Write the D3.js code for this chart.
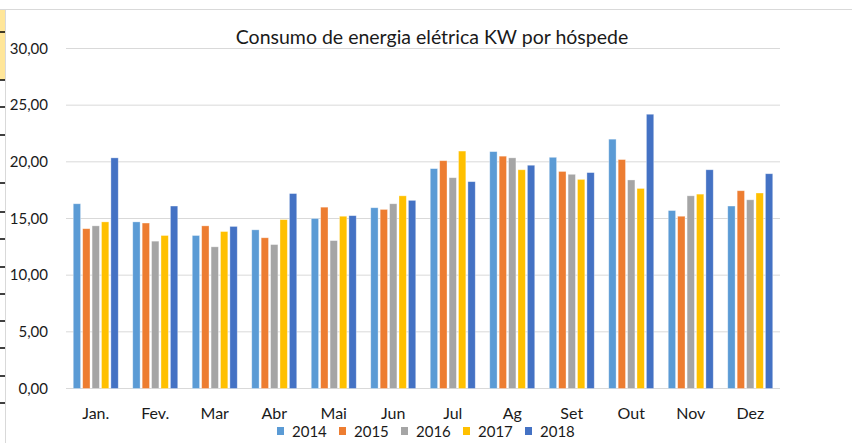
<!DOCTYPE html>
<html>
<head>
<meta charset="utf-8">
<script src="https://cdn.jsdelivr.net/npm/d3@7"></script>
<style>
  body { margin: 0; background: #fff; }
  svg { display: block; }
  text { font-family: Lato, "Noto Sans", sans-serif; fill: #1a1a1a; }
</style>
</head>
<body>
<div id="chart"></div>
<script>
// values
const months = ["Jan.", "Fev.", "Mar", "Abr", "Mai", "Jun", "Jul", "Ag", "Set", "Out", "Nov", "Dez"]
const years = ["2014", "2015", "2016", "2017", "2018"]

const v2014 = [16.3, 14.7, 13.5, 14.0, 15.0, 15.95, 19.4, 20.9, 20.4, 22.0, 15.7, 16.1]
const v2015 = [14.1, 14.6, 14.35, 13.3, 16.0, 15.8, 20.1, 20.5, 19.15, 20.2, 15.2, 17.45]
const v2016 = [14.35, 13.0, 12.5, 12.7, 13.05, 16.3, 18.6, 20.35, 18.9, 18.4, 17.0, 16.65]
const v2017 = [14.7, 13.5, 13.85, 14.9, 15.2, 17.0, 20.95, 19.3, 18.45, 17.65, 17.15, 17.25]
const v2018 = [20.35, 16.1, 14.3, 17.2, 15.25, 16.6, 18.25, 19.7, 19.05, 24.2, 19.3, 18.95]

const yTicks = [0, 5, 10, 15, 20, 25, 30]

// spreadsheet row boundaries showing at the left edge
const sheetRows = [32, 80, 107, 135, 183, 212, 239, 267, 294, 321, 348, 376, 403]

const W = 852, H = 443
const margin = {top: 48.5, right: 72, bottom: 54.5, left: 66},
    width = W - margin.left - margin.right,
    height = H - margin.top - margin.bottom

const series = [v2014, v2015, v2016, v2017, v2018]
const data = months.map((m, i) => {
  const row = {month: m}
  years.forEach((y, j) => row[y] = series[j][i])
  return row
})

const svg = d3.select("#chart")
  .append("svg")
    .attr("width", W)
    .attr("height", H)

// bits of the spreadsheet around the chart
svg.append("rect")
  .attr("x", 0).attr("y", 10)
  .attr("width", 5).attr("height", 70)
  .attr("fill", "#ffe699")
svg.append("line")
  .attr("x1", 0).attr("x2", W)
  .attr("y1", 9.5).attr("y2", 9.5)
  .attr("stroke", "#d9d9d9")
svg.append("line")
  .attr("x1", 5.5).attr("x2", 5.5)
  .attr("y1", 10).attr("y2", H)
  .attr("stroke", "#d9d9d9")
svg.append("g")
  .selectAll("line")
  .data(sheetRows)
  .join("line")
    .attr("x1", 0).attr("x2", 5)
    .attr("y1", d => d).attr("y2", d => d)
    .attr("stroke", "#000")
    .attr("stroke-width", 1.5)

const g = svg.append("g")
    .attr("transform", `translate(${margin.left},${margin.top})`)

const x0 = d3.scaleBand()
    .domain(months)
    .range([0, width])
    .paddingInner(0.2437)
    .paddingOuter(0.2437 / 2)

const x1 = d3.scaleBand()
    .domain(years)
    .range([0, x0.bandwidth()])
    .paddingInner(0.22)

const y = d3.scaleLinear()
    .domain([0, 30])
    .range([height, 0])

const color = d3.scaleOrdinal()
    .domain(years)
    .range(["#5b9bd5", "#ed7d31", "#a5a5a5", "#ffc000", "#4472c4"])

const locale = d3.formatLocale({decimal: ",", thousands: ".", grouping: [3], currency: ["R$", ""]})
const fmt = locale.format(".2f")

// grid
g.append("g")
  .selectAll("line")
  .data(yTicks)
  .join("line")
    .attr("x1", 0).attr("x2", width)
    .attr("y1", d => y(d)).attr("y2", d => y(d))
    .attr("stroke", "#d9d9d9")
    .attr("stroke-width", 1)

// y labels
g.append("g")
  .selectAll("text")
  .data(yTicks)
  .join("text")
    .attr("x", -18)
    .attr("y", d => y(d))
    .attr("dy", "0.35em")
    .attr("text-anchor", "end")
    .style("font-size", "15px")
    .text(d => fmt(d))

// bars
g.append("g")
  .selectAll("g")
  .data(data)
  .join("g")
    .attr("transform", d => `translate(${x0(d.month)},0)`)
  .selectAll("rect")
  .data(d => years.map(k => ({key: k, value: d[k]})))
  .join("rect")
    .attr("x", d => x1(d.key))
    .attr("y", d => y(d.value))
    .attr("width", x1.bandwidth())
    .attr("height", d => y(0) - y(d.value))
    .attr("fill", d => color(d.key))
    .attr("stroke", "rgba(255,255,255,0.45)")
    .attr("stroke-width", 0.75)

// month labels
g.append("g")
  .selectAll("text")
  .data(months)
  .join("text")
    .attr("x", d => x0(d) + x0.bandwidth() / 2)
    .attr("y", height + 30.5)
    .attr("text-anchor", "middle")
    .style("font-size", "16px")
    .text(d => d)

// title
svg.append("text")
  .attr("x", 432)
  .attr("y", 44)
  .attr("text-anchor", "middle")
  .style("font-size", "19.5px")
  .text("Consumo de energia elétrica KW por hóspede")

// legend
const legend = svg.append("g")
    .attr("transform", "translate(277,0)")
  .selectAll("g")
  .data(years)
  .join("g")
    .attr("transform", (d, i) => `translate(${i * 62},0)`)

legend.append("rect")
  .attr("x", 0).attr("y", 427)
  .attr("width", 7).attr("height", 8)
  .attr("fill", d => color(d))

legend.append("text")
  .attr("x", 15)
  .attr("y", 437)
  .style("font-size", "15px")
  .text(d => d)
</script>
</body>
</html>
